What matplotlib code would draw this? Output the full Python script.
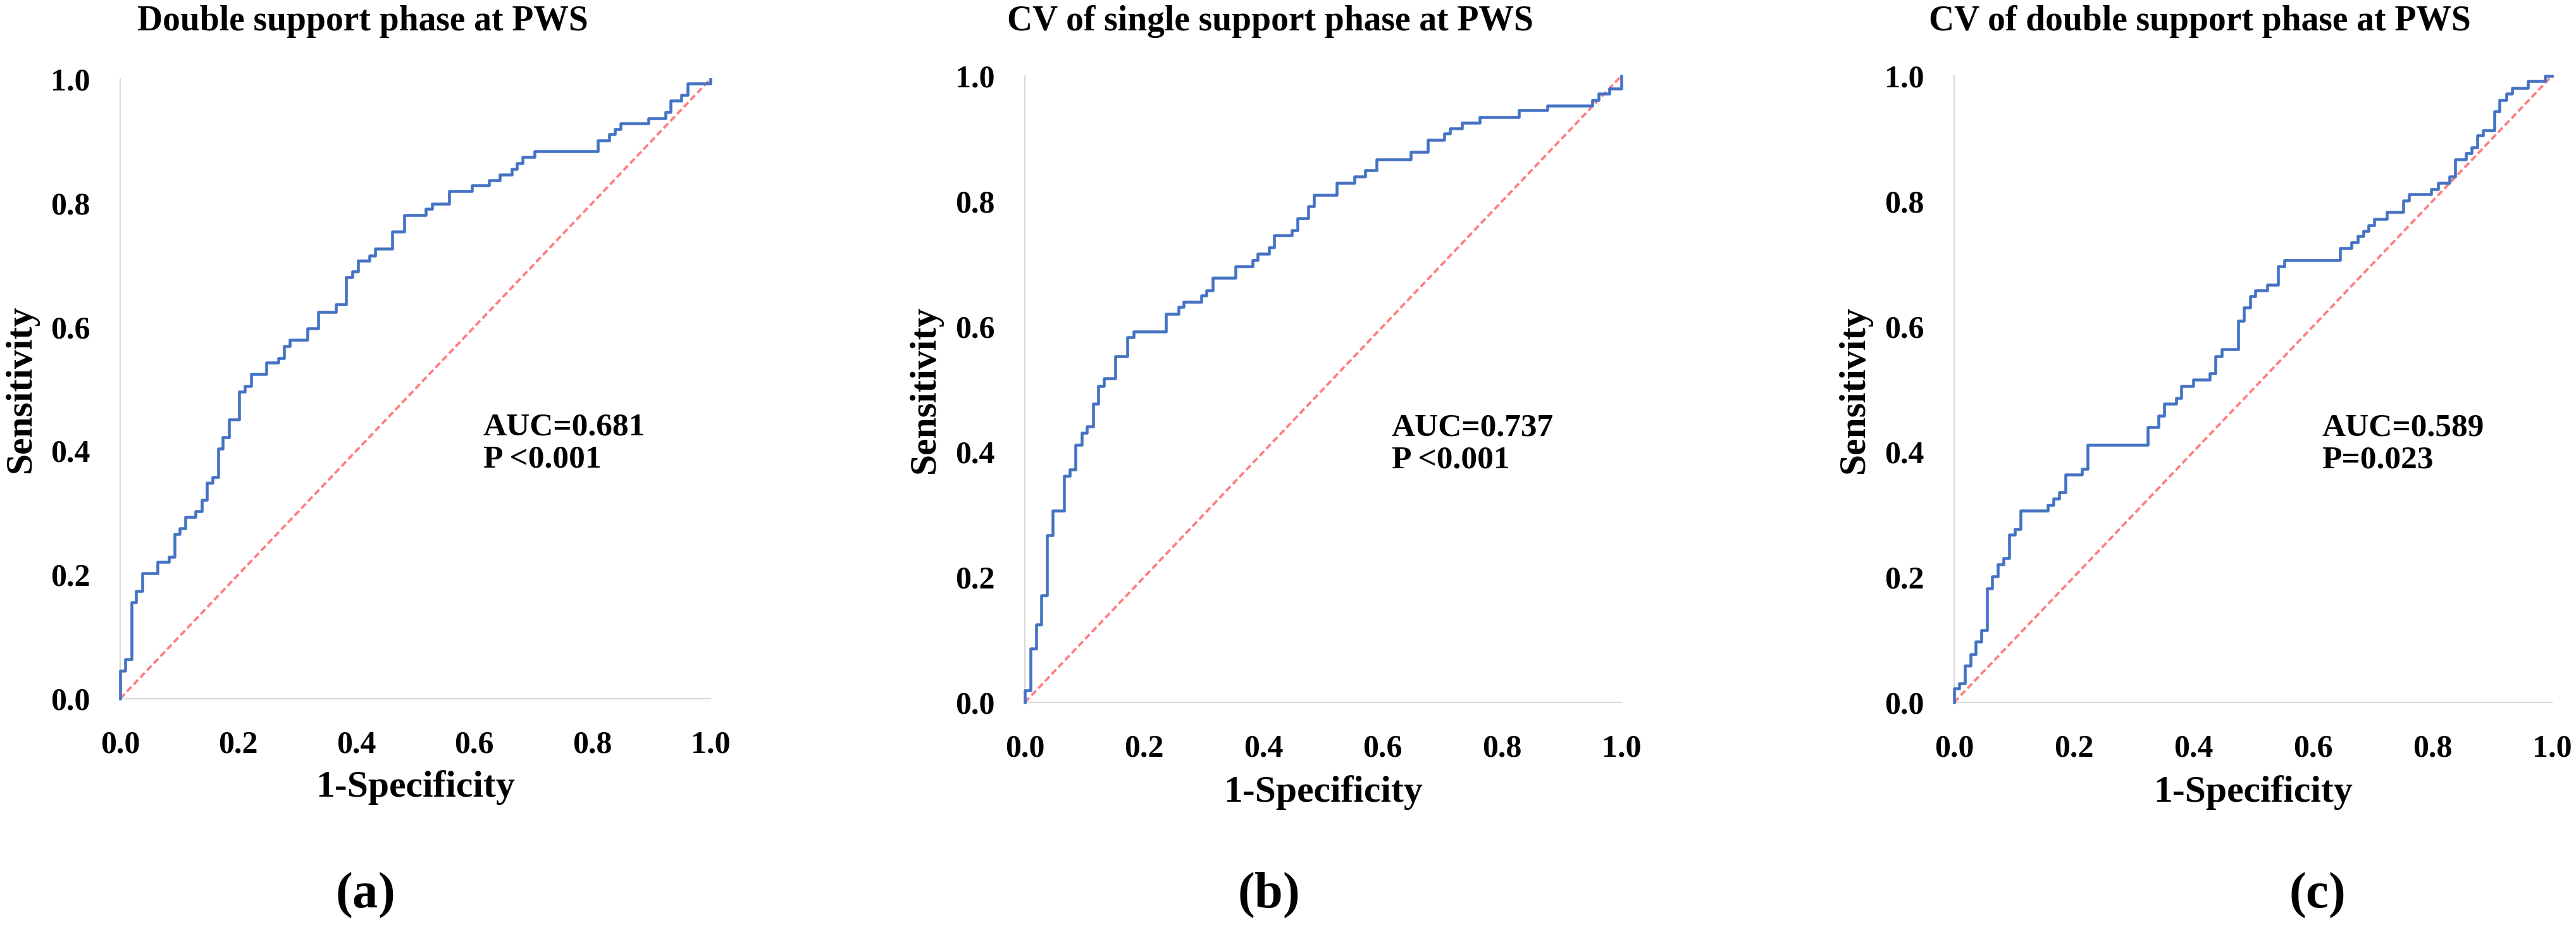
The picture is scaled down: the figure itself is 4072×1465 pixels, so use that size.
import matplotlib
matplotlib.use("Agg")
import matplotlib.pyplot as plt
from matplotlib.ticker import FixedLocator, FormatStrFormatter

plt.rcParams['font.family'] = ['Liberation Serif', 'DejaVu Serif']
plt.rcParams['font.weight'] = 'bold'
plt.rcParams['mathtext.fontset'] = 'custom'
plt.rcParams['mathtext.rm'] = 'Liberation Serif'
plt.rcParams['mathtext.bf'] = 'Liberation Serif:bold'
plt.rcParams['mathtext.it'] = 'Liberation Serif:italic'

# ROC step corners: at each fpr the curve jumps up to tpr
fpr_a = [0, 0.0085, 0.019, 0.027, 0.037, 0.063, 0.082, 0.092, 0.101, 0.110, 0.128, 0.138,
         0.147, 0.157, 0.166, 0.174, 0.184, 0.202, 0.211, 0.222, 0.248, 0.268, 0.278, 0.287,
         0.317, 0.336, 0.365, 0.383, 0.393, 0.403, 0.422, 0.432, 0.461, 0.481, 0.518, 0.528,
         0.557, 0.596, 0.625, 0.643, 0.663, 0.672, 0.682, 0.702, 0.809, 0.828, 0.838, 0.848,
         0.895, 0.924, 0.932, 0.951, 0.961, 1.0]
tpr_a = [0.045, 0.063, 0.155, 0.174, 0.202, 0.221, 0.229, 0.266, 0.275, 0.293, 0.302, 0.321,
         0.348, 0.357, 0.403, 0.422, 0.450, 0.495, 0.505, 0.524, 0.542, 0.550, 0.569, 0.579,
         0.598, 0.624, 0.636, 0.680, 0.689, 0.707, 0.715, 0.726, 0.754, 0.780, 0.791, 0.799,
         0.819, 0.828, 0.837, 0.846, 0.855, 0.864, 0.874, 0.884, 0.901, 0.911, 0.919, 0.928,
         0.937, 0.947, 0.965, 0.974, 0.993, 1.0]

fpr_b = [0, 0.010, 0.019, 0.028, 0.037, 0.047, 0.066, 0.075, 0.085, 0.095, 0.104, 0.114,
         0.123, 0.133, 0.152, 0.172, 0.182, 0.237, 0.258, 0.266, 0.296, 0.304, 0.315, 0.353,
         0.382, 0.390, 0.409, 0.418, 0.447, 0.457, 0.475, 0.485, 0.523, 0.552, 0.571, 0.590,
         0.647, 0.676, 0.703, 0.713, 0.733, 0.762, 0.828, 0.876, 0.951, 0.962, 0.980, 1.0]
tpr_b = [0.019, 0.086, 0.124, 0.171, 0.267, 0.306, 0.362, 0.372, 0.411, 0.430, 0.440, 0.477,
         0.505, 0.517, 0.553, 0.583, 0.592, 0.620, 0.631, 0.639, 0.650, 0.658, 0.678, 0.696,
         0.706, 0.716, 0.726, 0.745, 0.754, 0.773, 0.792, 0.810, 0.829, 0.839, 0.849, 0.867,
         0.879, 0.898, 0.908, 0.916, 0.925, 0.934, 0.945, 0.953, 0.962, 0.972, 0.980, 1.0]

fpr_c = [0, 0.0086, 0.018, 0.027, 0.036, 0.046, 0.055, 0.064, 0.073, 0.083, 0.092, 0.102,
         0.111, 0.157, 0.166, 0.176, 0.186, 0.214, 0.223, 0.324, 0.342, 0.351, 0.371, 0.380,
         0.400, 0.428, 0.437, 0.448, 0.475, 0.485, 0.495, 0.504, 0.524, 0.542, 0.552, 0.646,
         0.665, 0.675, 0.685, 0.693, 0.703, 0.724, 0.751, 0.761, 0.798, 0.809, 0.829, 0.838,
         0.856, 0.866, 0.875, 0.885, 0.904, 0.912, 0.924, 0.933, 0.960, 0.988, 1.0]
tpr_c = [0.022, 0.030, 0.059, 0.077, 0.097, 0.115, 0.182, 0.201, 0.220, 0.230, 0.268, 0.277,
         0.306, 0.315, 0.325, 0.335, 0.364, 0.373, 0.411, 0.439, 0.458, 0.477, 0.486, 0.505,
         0.515, 0.525, 0.553, 0.564, 0.609, 0.630, 0.648, 0.658, 0.667, 0.696, 0.706, 0.725,
         0.734, 0.744, 0.753, 0.762, 0.772, 0.783, 0.801, 0.811, 0.819, 0.829, 0.839, 0.867,
         0.877, 0.886, 0.905, 0.913, 0.943, 0.962, 0.972, 0.981, 0.992, 1.0, 1.0]

titles = ["Double support phase at PWS", "CV of single support phase at PWS",
          "CV of double support phase at PWS"]
stats = ["AUC=0.681\nP <0.001", "AUC=0.737\nP <0.001", "AUC=0.589\nP=0.023"]
letters = ["a", "b", "c"]
ticks = [0.0, 0.2, 0.4, 0.6, 0.8, 1.0]

W, H = 4072, 1465
fig = plt.figure(figsize=(W / 100, H / 100), dpi=100)

# axes boxes in pixels: left, right, top, bottom
boxes = [(190, 1123, 125, 1104), (1620, 2563, 120, 1110), (3089, 4034, 120, 1110)]
curves = [(fpr_a, tpr_a), (fpr_b, tpr_b), (fpr_c, tpr_c)]
letter_x = [576, 2004, 3662]

for i in range(3):
    l, r, t, b = boxes[i]
    ax = fig.add_axes([l / W, (H - b) / H, (r - l) / W, (b - t) / H])
    fx, ty = curves[i]
    ax.plot([0, 1], [0, 1], color="#FF7C80", lw=2.7, dashes=(2.7, 1.4), clip_on=False, zorder=2)
    ax.step([0] + fx, [0] + ty, where="post", color="#4472C4", lw=3.3, clip_on=False, zorder=3)
    ax.set_xlim(0, 1)
    ax.set_ylim(0, 1)
    for s in ["top", "right"]:
        ax.spines[s].set_visible(False)
    for s in ["left", "bottom"]:
        ax.spines[s].set_color("#D9D9D9")
        ax.spines[s].set_linewidth(1.6)
    ax.xaxis.set_major_locator(FixedLocator(ticks))
    ax.yaxis.set_major_locator(FixedLocator(ticks))
    ax.xaxis.set_major_formatter(FormatStrFormatter("%.1f"))
    ax.yaxis.set_major_formatter(FormatStrFormatter("%.1f"))
    ax.tick_params(axis="x", length=0, pad=36, labelsize=36)
    ax.tick_params(axis="y", length=0, pad=34, labelsize=36)
    for lab in ax.get_xticklabels() + ax.get_yticklabels():
        lab.set_fontweight("bold")
    ax.set_xlabel("1-Specificity", fontsize=43, fontweight="bold")
    ax.xaxis.set_label_coords(0.50, -0.116)
    ax.set_ylabel("Sensitivity", fontsize=43, fontweight="bold")
    ax.yaxis.set_label_coords(-0.138, 0.5)
    ax.text(0.615, 0.412, stats[i], transform=ax.transAxes, fontsize=37,
            fontweight="bold", va="center", ha="left", linespacing=1.15)
    fig.text((l + 0.411 * (r - l)) / W, 1 - 34 / H, titles[i], fontsize=40,
             fontweight="bold", ha="center", va="center")
    fig.text(letter_x[i] / W, 1 - 1415 / H, r"$(\mathbf{" + letters[i] + "})$",
             fontsize=58, ha="center", va="center")

fig.savefig("out.png", dpi=100, facecolor="white")
